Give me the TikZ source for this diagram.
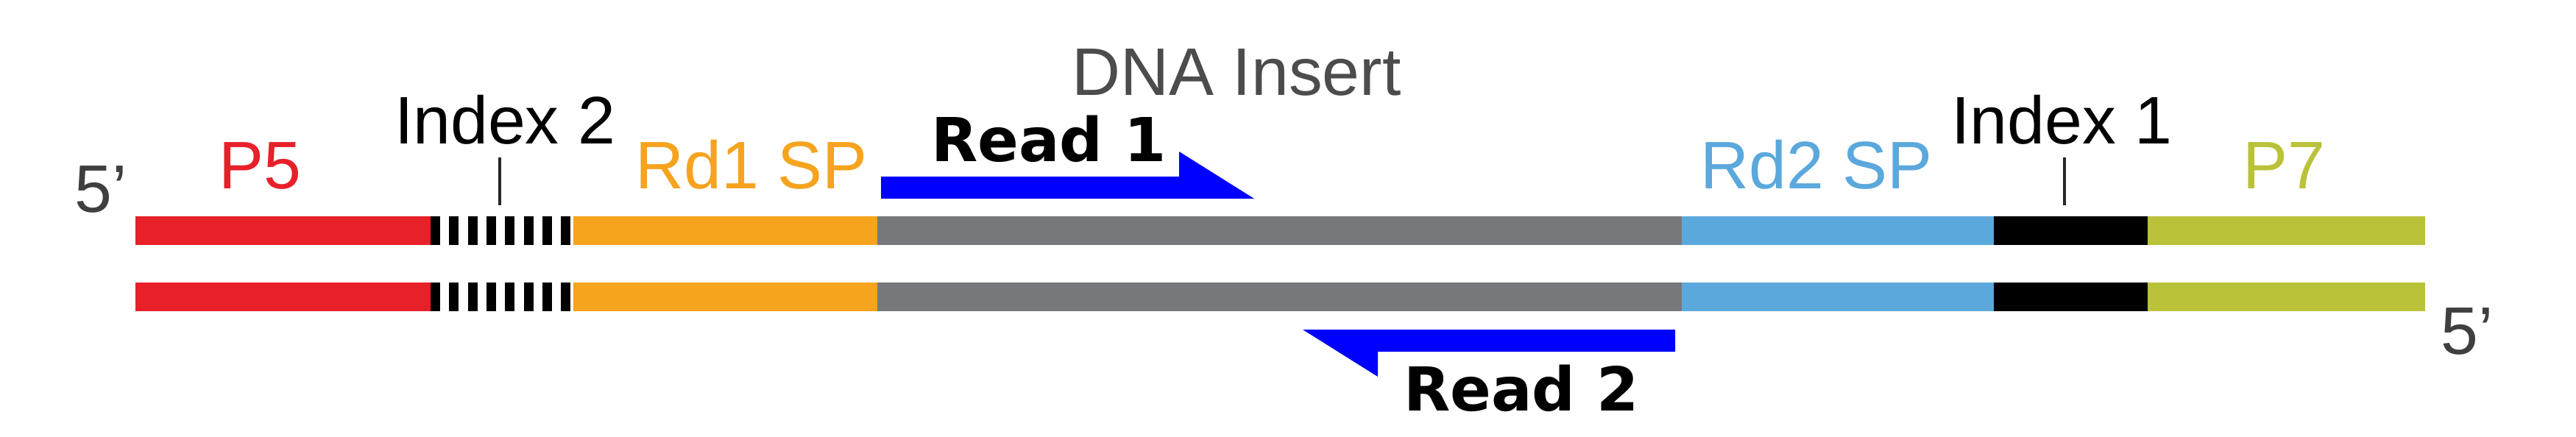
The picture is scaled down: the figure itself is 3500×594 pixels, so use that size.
\documentclass[tikz,border=0pt]{standalone}
\usepackage{fontspec}
\setmainfont{Liberation Sans}
\newfontfamily\readfont{DejaVu Sans}
\definecolor{pfive}{HTML}{E8202A}
\definecolor{rdone}{HTML}{F6A31E}
\definecolor{insert}{HTML}{77787B}
\definecolor{rdtwo}{HTML}{5BA8DC}
\definecolor{pseven}{HTML}{BAC23A}
\definecolor{readblue}{HTML}{0000FF}
\definecolor{endgray}{HTML}{3F3F3F}

\begin{document}
\begin{tikzpicture}[x=0.01cm, y=-0.01cm,
    lbl/.style={anchor=base, inner sep=0pt, font=\fontsize{26pt}{30pt}\selectfont},
    readlbl/.style={anchor=base, inner sep=0pt, font=\readfont\bfseries\fontsize{23.4pt}{28pt}\selectfont},
    tick/.style={line width=1pt, black!85}]
    \useasboundingbox (0,0) rectangle (3500,594);

    % Straenge
    \foreach \y in {294,384} {
        \fill[pfive]  (184,\y) rectangle (585,\y+39);
        \foreach \i in {0,...,7}
            \fill[black] (585+25.3*\i,\y) rectangle (598+25.3*\i,\y+39);
        \fill[rdone]  (779,\y) rectangle (1192,\y+39);
        \fill[insert] (1192,\y) rectangle (2285,\y+39);
        \fill[rdtwo]  (2285,\y) rectangle (2709,\y+39);
        \fill[black]  (2709,\y) rectangle (2918,\y+39);
        \fill[pseven] (2918,\y) rectangle (3295,\y+39);
    }

    % Beschriftung
    \node[lbl, endgray] (fivel) at (137,288) {5’};
    \node[lbl, pfive] (pfivelbl) at (353,256) {P5};
    \node[lbl] (idxtwo) at (686,195) {Index 2};
    \node[lbl, rdone] (rdonelbl) at (1021,256) {Rd1 SP};
    \node[lbl, black!70] (insertlbl) at (1680,129) {DNA Insert};
    \node[lbl, rdtwo] (rdtwolbl) at (2468,256) {Rd2 SP};
    \node[lbl] (idxone) at (2801,195) {Index 1};
    \node[lbl, pseven] (psevenlbl) at (3103,256) {P7};
    \node[lbl, endgray] (fiver) at (3352,481) {5’};

    \draw[tick] (idxtwo.south) ++(-7,17) -- ++(0,65);
    \draw[tick] (idxone.south) ++(4,17) -- ++(0,65);

    % Reads
    \node[readlbl] (readone) at (1425,219) {Read 1};
    \fill[readblue] (1197,240) -- (1602,240) -- (1602,206) -- (1704,270) -- (1197,270) -- cycle;

    \node[readlbl] (readtwo) at (2067,558) {Read 2};
    \fill[readblue] (2276,448) -- (1770,448) -- (1872,512) -- (1872,478) -- (2276,478) -- cycle;
\end{tikzpicture}
\end{document}
